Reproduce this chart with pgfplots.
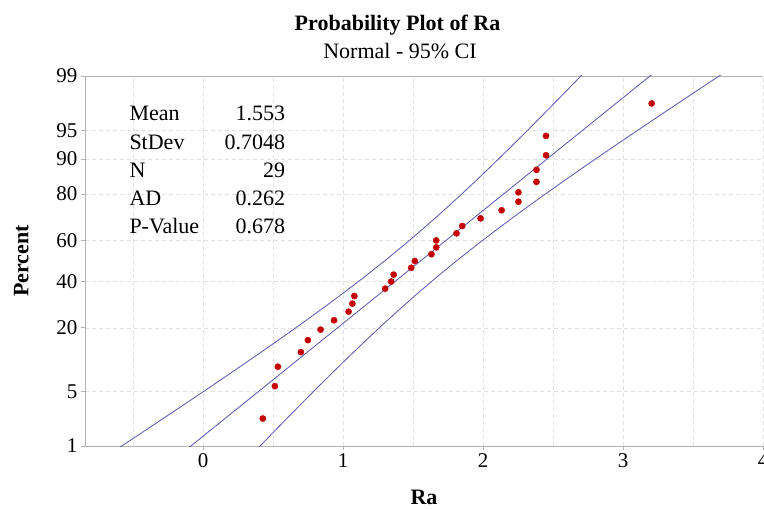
\documentclass[border=0pt]{standalone}
\usepackage{fontspec}
\setmainfont{Liberation Serif}
\usepackage{pgfplots}
\pgfplotsset{compat=1.18}

\definecolor{ciblue}{RGB}{84,84,178}
\definecolor{ptred}{RGB}{196,0,0}
\definecolor{gridgray}{RGB}{224,224,224}
\definecolor{axisgray}{RGB}{178,178,178}

\begin{document}
\begin{tikzpicture}
\begin{axis}[
    at={(0,0)}, anchor=south west,
    scale only axis, width=678bp, height=370bp,
    xmin=-0.843, xmax=4,
    ymin=-2.3263, ymax=2.3263,
    axis x line*=box, axis y line*=left,
    axis line style={axisgray, line width=0.9bp},
    xtick={0,1,2,3,4},
    xticklabels={0,1,2,3,4},
    minor xtick={-0.5,0.5,1.5,2.5,3.5},
    ytick={-2.3263,-1.6449,-0.8416,-0.2533,0.2533,0.8416,1.2816,1.6449,2.3263},
    yticklabels={1,5,20,40,60,80,90,95,99},
    xtick pos=bottom, ytick pos=left,
    tick align=outside, major tick length=4bp, minor tick length=0pt,
    tick style={axisgray, line width=0.9bp},
    grid=both,
    major grid style={gridgray, dash pattern=on 4bp off 3bp, line width=0.8bp},
    minor grid style={gridgray, dash pattern=on 4bp off 3bp, line width=0.8bp},
    ticklabel style={font=\fontsize{21bp}{25bp}\selectfont},
    /pgf/number format/assume math mode=true,
    xlabel={Ra}, ylabel={Percent},
    label style={font=\bfseries\fontsize{22bp}{26bp}\selectfont},
    xlabel style={at={(axis description cs:0.5,-0.158)}, anchor=base},
    ylabel style={at={(axis description cs:-0.0836,0.5)}, anchor=base},
]

% fitted line
\addplot[ciblue, line width=0.8bp] coordinates {(-0.2795,-2.6) (3.3855,2.6)};

% lower/left confidence band
\addplot[ciblue, line width=0.8bp] coordinates {
    (-0.8164,-2.6) (-0.6438,-2.4) (-0.4720,-2.2) (-0.3009,-2.0) (-0.1308,-1.8)
    (0.0380,-1.6) (0.2053,-1.4) (0.3708,-1.2) (0.5340,-1.0) (0.6945,-0.8)
    (0.8514,-0.6) (1.0045,-0.4) (1.1529,-0.2) (1.2965,0.0) (1.4349,0.2)
    (1.5683,0.4) (1.6972,0.6) (1.8221,0.8) (1.9436,1.0) (2.0624,1.2)
    (2.1787,1.4) (2.2934,1.6) (2.4064,1.8) (2.5183,2.0) (2.6292,2.2)
    (2.7392,2.4) (2.8486,2.6)
};

% upper/right confidence band
\addplot[ciblue, line width=0.8bp] coordinates {
    (0.2574,-2.6) (0.3668,-2.4) (0.4768,-2.2) (0.5877,-2.0) (0.6996,-1.8)
    (0.8126,-1.6) (0.9273,-1.4) (1.0436,-1.2) (1.1624,-1.0) (1.2839,-0.8)
    (1.4088,-0.6) (1.5377,-0.4) (1.6711,-0.2) (1.8095,0.0) (1.9531,0.2)
    (2.1015,0.4) (2.2546,0.6) (2.4115,0.8) (2.5720,1.0) (2.7352,1.2)
    (2.9007,1.4) (3.0680,1.6) (3.2368,1.8) (3.4069,2.0) (3.5780,2.2)
    (3.7498,2.4) (3.9224,2.6)
};

% data points (Ra, normal score)
\addplot[only marks, mark=*, mark size=3.1bp, mark options={draw=ptred, fill=ptred}] coordinates {
    (0.427,-1.9810) (0.513,-1.5734) (0.535,-1.3295) (0.699,-1.1462) (0.749,-0.9951)
    (0.840,-0.8637) (0.936,-0.7458) (1.040,-0.6375) (1.067,-0.5362) (1.081,-0.4401)
    (1.301,-0.3479) (1.344,-0.2586) (1.362,-0.1714) (1.487,-0.0854) (1.513,0.0)
    (1.632,0.0854) (1.666,0.1714) (1.666,0.2586) (1.811,0.3479) (1.852,0.4401)
    (1.983,0.5362) (2.133,0.6375) (2.253,0.7458) (2.253,0.8637) (2.382,0.9951)
    (2.382,1.1462) (2.450,1.3295) (2.450,1.5734) (3.205,1.9810)
};
\end{axis}

\node[anchor=base, font=\bfseries\fontsize{22bp}{26bp}\selectfont] at (312.5bp,415bp) {Probability Plot of Ra};
\node[anchor=base, font=\fontsize{22bp}{26bp}\selectfont] at (315bp,387bp) {Normal - 95\% CI};

\begin{scope}[every node/.style={inner sep=0pt, font=\fontsize{22bp}{26bp}\selectfont}]
\node[anchor=base west] at (44.3bp,325.3bp) {Mean};
\node[anchor=base east] at (200.3bp,325.3bp) {1.553};
\node[anchor=base west] at (44.3bp,296.9bp) {StDev};
\node[anchor=base east] at (200.3bp,296.9bp) {0.7048};
\node[anchor=base west] at (44.3bp,268.6bp) {N};
\node[anchor=base east] at (200.3bp,268.6bp) {29};
\node[anchor=base west] at (44.3bp,240.3bp) {AD};
\node[anchor=base east] at (200.3bp,240.3bp) {0.262};
\node[anchor=base west] at (44.3bp,212bp) {P-Value};
\node[anchor=base east] at (200.3bp,212bp) {0.678};
\end{scope}

\pgfresetboundingbox
\path[use as bounding box] (-85bp,-63bp) rectangle (679bp,446bp);
\end{tikzpicture}
\end{document}
